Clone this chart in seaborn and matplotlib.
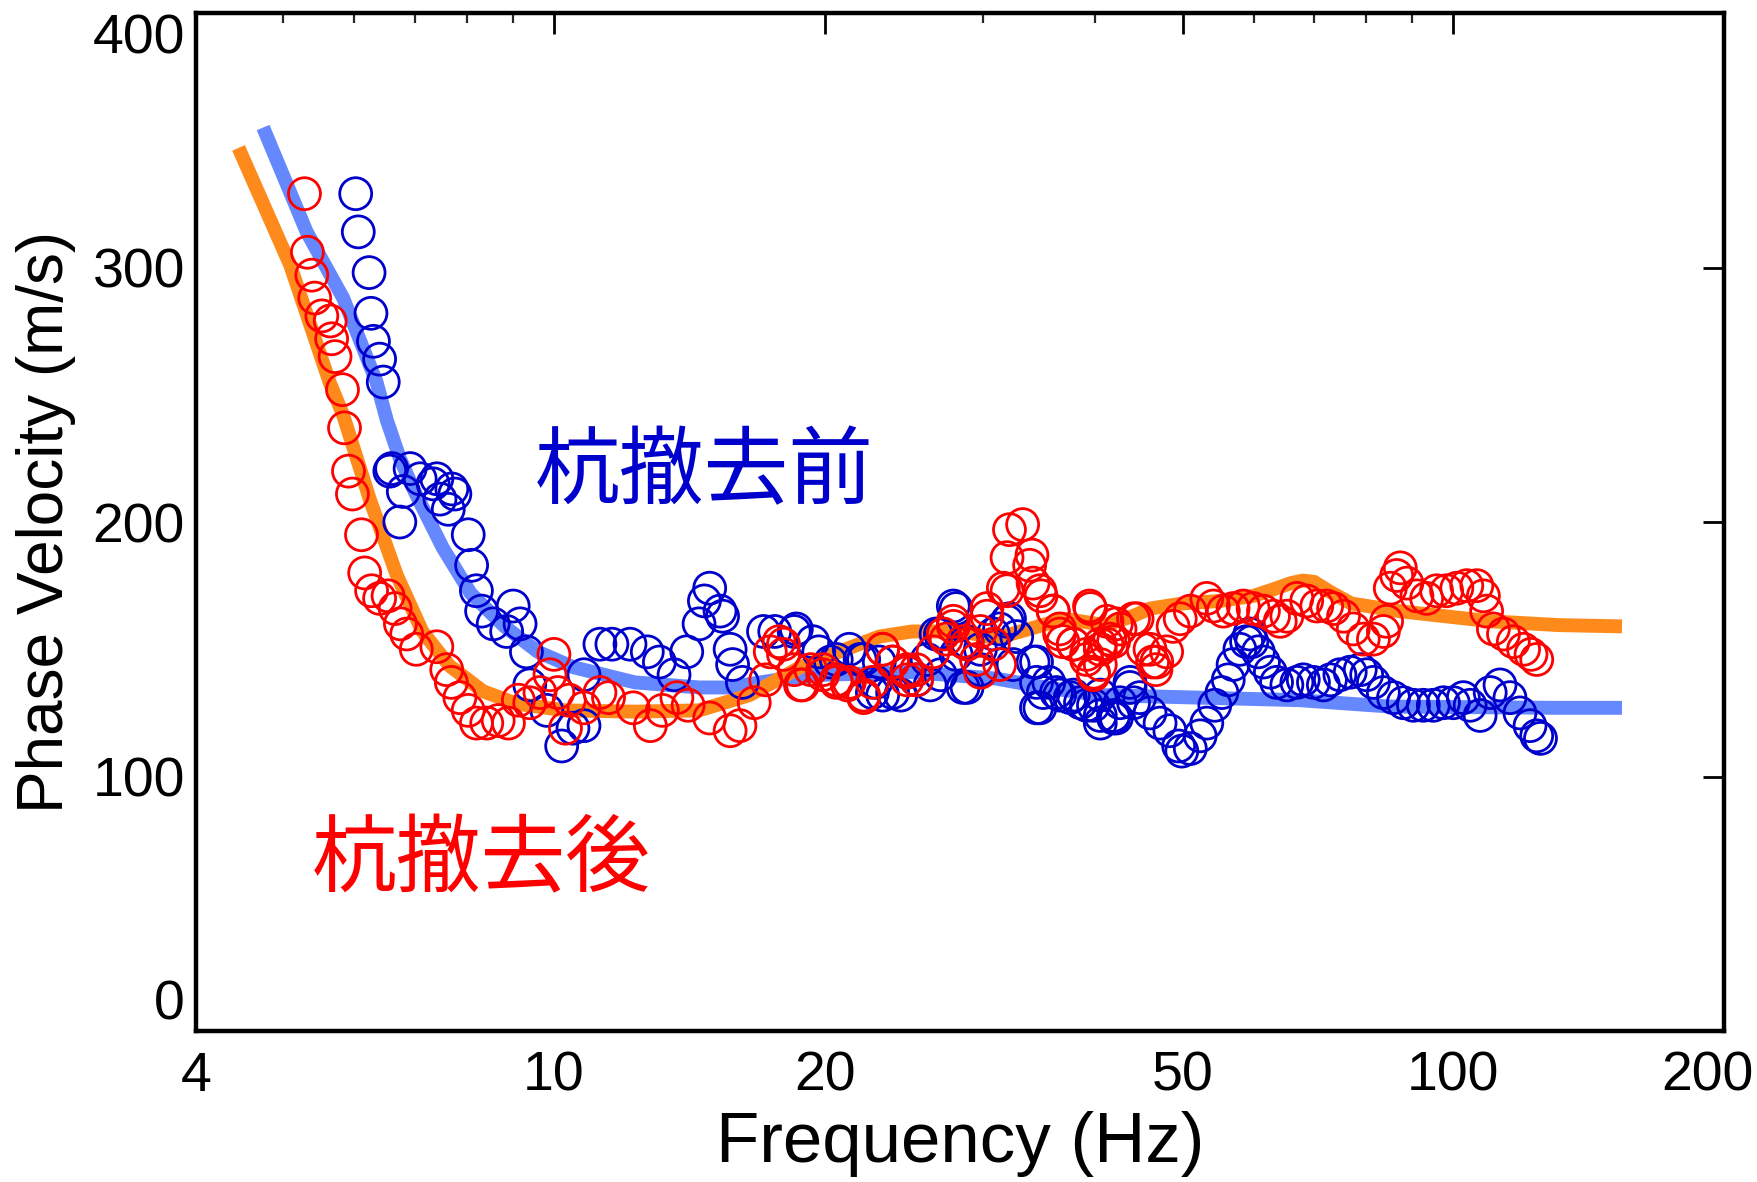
"""
Phase velocity dispersion before / after pile removal.
"""
import matplotlib
matplotlib.use("Agg")
import matplotlib.pyplot as plt
import matplotlib.ticker as mticker
import matplotlib.transforms as mtransforms
import pandas as pd
import seaborn as sns

# blue circles: before removal (杭撤去前)
BEFORE_F = [6.02, 6.06, 6.23, 6.26, 6.30, 6.40, 6.46, 6.57, 6.60, 6.74, 6.80, 6.92,
            7.10, 7.34, 7.41, 7.47, 7.63, 7.70, 7.76, 8.03, 8.10, 8.20, 8.31, 8.56,
            8.86, 9.01, 9.17, 9.32, 9.40, 9.82, 10.2, 10.5, 10.8, 10.8, 11.25, 11.6,
            12.15, 12.7, 13.1, 13.6, 14.05, 14.5, 14.7, 14.9, 15.3, 15.4, 15.7, 15.8,
            16.2, 17.1, 17.6, 18.6, 19.4, 20.3, 21.3, 22.1, 22.8, 23.2, 24.3, 25.3,
            26.2, 26.9, 27.8, 28.0, 28.8, 29.8, 30.8, 31.9, 32.7, 34.1, 34.4, 34.4,
            35.5, 36.5, 37.8, 39.1, 40.5, 40.5, 41.9, 42.2, 43.7, 44.1,
            # 18-40 Hz, extra reads
            18.5, 19.7, 20.6, 21.9, 23.0, 22.6, 23.8, 24.7, 26.0, 26.6, 28.0, 28.8,
            26.9, 28.5, 29.8, 31.3, 32.1, 32.4, 34.4, 35.0, 34.7, 36.2, 37.5, 38.5,
            39.8, 40.5,
            # 40-125 Hz chain
            41.9, 42.6, 43.7, 44.8, 46.0, 47.2, 48.4, 49.5, 49.9, 51.0, 52.3, 53.2,
            54.3, 55.3, 56.2, 56.9, 57.9, 58.9, 59.4, 59.7, 60.7, 61.5, 62.6, 63.6,
            65.3, 67.0, 68.1, 69.9, 71.7, 73.0, 74.8, 76.8, 78.8, 80.1, 81.5, 83.6,
            85.8, 88.0, 90.3, 92.6, 95.0, 97.5, 100.0, 102.6, 104.4, 107.1, 109.9,
            112.7, 115.6, 118.6, 121.7, 123.8, 125.0]
BEFORE_V = [329, 314, 298, 282, 271, 264, 255, 220, 221, 200, 212, 221,
            217, 215, 217, 209, 205, 213, 211, 195, 183, 173, 165, 160,
            157, 167, 160, 149, 136, 126, 112, 119, 120, 140, 152, 152,
            152, 149, 145, 140, 149, 160, 169, 174, 165, 163, 150, 144,
            137, 157, 157, 158, 153, 145, 150, 146, 137, 132, 132, 138,
            136, 156, 167, 148, 135, 150, 156, 161, 155, 145, 137, 127,
            137, 132, 132, 128, 124, 132, 123, 123, 137, 129,
            157, 149, 146, 146, 145, 133, 133, 141, 146, 156, 166, 153,
            140, 135, 142, 158, 162, 144, 145, 133, 127, 133, 131, 129,
            128, 121,
            124, 129, 135, 131, 125, 121, 118, 112, 110, 111, 116, 121,
            128, 133, 138, 144, 150, 153, 156, 153, 149, 145, 141, 137,
            136, 137, 138, 137, 136, 138, 140, 141, 142, 140, 137, 133,
            131, 129, 128, 128, 128, 129, 129, 131, 128, 124, 133,
            136, 131, 125, 120, 116, 115]

# red circles: after removal (杭撤去後)
AFTER_F = [5.28, 5.32, 5.38, 5.42, 5.52, 5.64, 5.66, 5.71, 5.82, 5.85, 5.91, 5.97,
           6.11, 6.16, 6.27, 6.40, 6.54, 6.66, 6.75, 6.86, 7.03, 7.41, 7.60, 7.69,
           7.86, 8.03, 8.20, 8.42, 8.67, 8.90, 9.13, 9.40, 9.65, 9.9, 10.0, 10.1,
           10.3, 10.4, 10.8, 11.25, 11.5, 12.25, 12.8, 13.2, 13.7, 14.1, 14.9, 15.7,
           16.1, 16.7, 17.2, 17.4, 17.8, 18.0, 18.8, 19.3, 19.9, 20.6, 21.2, 22.1,
           22.6, 23.2, 23.8, 24.7, 25.3, 26.4, 27.1, 27.8, 28.5, 29.5, 30.3, 31.6,
           31.9, 32.1, 33.2, 34.0, 34.1, 34.8, 35.9, 36.5, 36.8, 37.8, 39.1, 39.4,
           39.8, 40.5, 41.2, 41.5, 42.2, 44.1, 45.2, 46.3, 46.7,
           # 18-40 Hz, extra reads
           18.0, 18.5, 18.9, 19.9, 20.6, 21.3, 22.1, 23.2, 23.8, 24.7, 25.3, 24.7,
           27.3, 27.8, 28.8, 29.8, 30.3, 30.8, 31.3, 29.8, 31.9, 33.8, 34.7, 35.9,
           36.5, 37.8, 39.5, 39.1, 39.8, 40.5,
           # 40-124 Hz chain
           40.5, 41.9, 41.2, 42.6, 44.5, 46.0, 46.8, 48.0, 48.8, 49.7, 51.0, 53.2,
           54.1, 55.5, 56.9, 58.4, 59.9, 61.5, 63.1, 64.2, 65.3, 67.0, 68.7, 70.5,
           72.3, 73.6, 75.5, 77.4, 79.4, 81.5, 83.6, 84.3, 85.1, 86.5, 87.3, 88.8,
           91.1, 93.4, 95.8, 98.3, 100.9, 103.5, 106.2, 108.0, 108.9, 110.8, 113.7,
           116.6, 119.7, 122.0, 123.8]
AFTER_V = [329, 306, 297, 288, 281, 279, 272, 265, 252, 237, 220, 211,
           195, 180, 173, 170, 171, 166, 160, 156, 150, 151, 142, 137,
           131, 126, 121, 121, 122, 121, 130, 129, 133, 140, 148, 133,
           119, 130, 127, 133, 131, 127, 120, 126, 131, 128, 123, 118,
           120, 129, 138, 149, 153, 148, 136, 142, 142, 138, 136, 132,
           137, 150, 145, 141, 142, 149, 156, 161, 153, 146, 163, 174,
           186, 197, 199, 187, 176, 171, 165, 158, 153, 152, 148, 167,
           141, 144, 152, 154, 160, 162, 150, 145, 142,
           152, 142, 136, 140, 137, 137, 131, 150, 145, 142, 138, 138,
           154, 159, 152, 157, 166, 152, 144, 141, 173, 183, 173, 165,
           156, 152, 166, 146, 140, 152,
           150, 153, 161, 158, 162, 150, 145, 149, 159, 162, 165, 170,
           167, 165, 166, 167, 166, 165, 163, 161, 163, 170, 169, 167,
           167, 166, 163, 158, 154, 154, 157, 161, 174, 179, 182, 176,
           171, 170, 173, 173, 174, 175, 175, 171, 165, 158, 156,
           153, 150, 148, 146]

# thick model curves
MODEL_BEFORE_F = [4.75, 5.31, 5.83, 6.35, 6.52, 6.74, 7.0, 7.52, 8.08, 8.81, 9.6,
                  10.5, 12.3, 14.5, 15.6, 17.7, 20.0, 25.0, 31.0, 35.2, 40.5, 46.0,
                  67.5, 85.0, 131, 154]
MODEL_BEFORE_V = [355, 314, 288, 255, 240, 225, 212, 190, 172, 159, 149,
                  143, 137, 135, 135, 138, 140, 141, 138.5, 135, 132, 131.5,
                  130, 127.5, 127, 127]
MODEL_AFTER_F = [4.46, 5.09, 5.63, 5.83, 6.24, 6.69, 7.14, 7.65, 8.34, 9.09, 10.3,
                 12.3, 14.5, 16.5, 18.8, 21.1, 23.0, 25.0, 28.5, 31.0, 33.8, 36.9,
                 41.0, 44.0, 46.0, 50.0, 55.0, 60.0, 63.0, 66.0, 68.0, 70.0, 73.0,
                 77.0, 87.0, 95.0, 110, 131, 154]
MODEL_AFTER_V = [347, 301, 255, 242, 209, 179, 157, 143.6, 133.5, 128.6, 126,
                 125.5, 126, 132, 143, 150, 155, 157, 157, 154.3, 158, 162,
                 159.5, 163, 166, 168, 169, 171, 173.5, 176, 177, 176.5, 172.5,
                 168, 165, 163.5, 161, 159.5, 159]

X_TICKS = [4, 10, 20, 50, 100, 200]
X_MINOR = [5, 6, 7, 8, 9, 30, 40, 60, 70, 80, 90]
Y_TICKS = [0, 100, 200, 300, 400]

BLUE = "#0000CC"
RED = "#FF0000"
BLUE_LINE = "#6688FF"
ORANGE_LINE = "#FF8A1C"

sns.set_theme(style="white")
plt.rcParams["font.family"] = ["Liberation Sans", "DejaVu Sans"]
plt.rcParams["text.color"] = "black"
plt.rcParams["axes.labelcolor"] = "black"

fig, ax = plt.subplots(figsize=(17.58, 11.82), dpi=100)
fig.subplots_adjust(left=0.1115, right=0.9807, bottom=0.1277, top=0.989)

sns.lineplot(x=MODEL_BEFORE_F, y=MODEL_BEFORE_V, ax=ax, color=BLUE_LINE,
             linewidth=10, solid_capstyle="butt", solid_joinstyle="round", zorder=2)
sns.lineplot(x=MODEL_AFTER_F, y=MODEL_AFTER_V, ax=ax, color=ORANGE_LINE,
             linewidth=10, solid_capstyle="butt", solid_joinstyle="round", zorder=2.1)

before = pd.DataFrame({"f": BEFORE_F, "v": BEFORE_V})
after = pd.DataFrame({"f": AFTER_F, "v": AFTER_V})
sns.scatterplot(data=before, x="f", y="v", ax=ax, marker="o", s=23 ** 2,
                facecolor="none", edgecolor=BLUE, linewidth=2.0, zorder=3)
sns.scatterplot(data=after, x="f", y="v", ax=ax, marker="o", s=23 ** 2,
                facecolor="none", edgecolor=RED, linewidth=2.0, zorder=3.1)

ax.set_xscale("log")
ax.set_xlim(4, 200)
ax.set_ylim(0, 400)
ax.xaxis.set_major_locator(mticker.FixedLocator(X_TICKS))
ax.xaxis.set_major_formatter(mticker.FixedFormatter([str(t) for t in X_TICKS]))
ax.xaxis.set_minor_locator(mticker.FixedLocator(X_MINOR))
ax.xaxis.set_minor_formatter(mticker.NullFormatter())
ax.set_yticks(Y_TICKS)

for s in ax.spines.values():
    s.set_linewidth(3.2)
    s.set_color("black")
ax.tick_params(axis="both", which="major", direction="in", top=True, right=True,
               length=15, width=2, labelsize=40, colors="black")
ax.tick_params(axis="x", which="major", pad=14)
ax.tick_params(axis="y", which="major", pad=8)
ax.tick_params(axis="x", which="minor", direction="in", top=True, length=7, width=1.6)

# keep the end labels inside the frame, as in the original
ylabels = ax.get_yticklabels()
ylabels[0].set_va("bottom")
ylabels[-1].set_va("top")
xlabels = ax.get_xticklabels()
shift = mtransforms.ScaledTranslation(-17 / 100, 0, fig.dpi_scale_trans)
xlabels[-1].set_transform(xlabels[-1].get_transform() + shift)

ax.set_xlabel("Frequency (Hz)", fontsize=51, labelpad=6)
ax.set_ylabel("Phase Velocity (m/s)", fontsize=46, labelpad=12)
ax.grid(False)

cjk = ["Noto Sans CJK JP", "DejaVu Sans"]
ax.text(0.3325, 0.548, "杭撤去前", transform=ax.transAxes, color=BLUE, fontsize=61,
        ha="center", va="center", family=cjk)
ax.text(0.1865, 0.167, "杭撤去後", transform=ax.transAxes, color=RED, fontsize=61,
        ha="center", va="center", family=cjk)

fig.savefig("out.png", dpi=100)
